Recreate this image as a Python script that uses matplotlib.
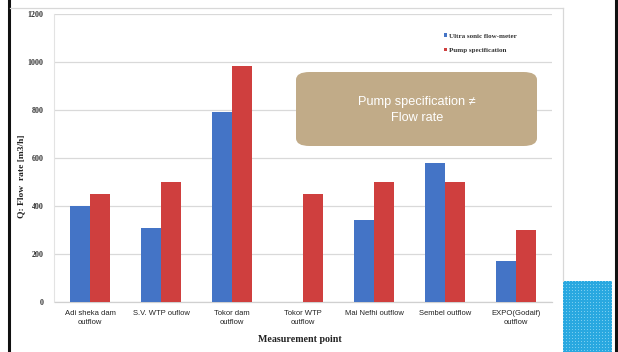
import numpy as np
import matplotlib
matplotlib.use("Agg")
import matplotlib.pyplot as plt
from matplotlib.patches import FancyBboxPatch
from matplotlib.lines import Line2D

categories = ["Adi sheka dam\noutflow", "S.V. WTP ouflow", "Tokor dam\noutflow",
              "Tokor WTP\noutflow", "Mai Nefhi outflow", "Sembel outflow",
              "EXPO(Godaif)\noutflow"]
ultrasonic = [400, 310, 790, 0, 340, 580, 170]
pump_spec = [450, 500, 985, 450, 500, 500, 300]
series_names = ["Ultra sonic flow-meter", "Pump specification"]
yticks = [0, 200, 400, 600, 800, 1000, 1200]

W, H = 618, 352
fig = plt.figure(figsize=(W / 100, H / 100), dpi=100)
fig.patch.set_facecolor("white")


def fx(px):
    return px / W


def fy(py):
    return 1 - py / H


# slide frame: dark side rules and the light chart border
fig.add_artist(Line2D([fx(9), fx(9)], [0, 1], color="#111111", lw=2.2))
fig.add_artist(Line2D([fx(615.5), fx(615.5)], [0, 1], color="#111111", lw=2.2))
fig.add_artist(Line2D([fx(10), fx(563)], [fy(8), fy(8)], color="#d8d8d8", lw=0.9))
fig.add_artist(Line2D([fx(563), fx(563)], [fy(8), fy(281)], color="#d8d8d8", lw=0.9))

# plot area
left, right, top, bottom = 54.5, 551.5, 14, 302
ax = fig.add_axes([fx(left), fy(bottom), fx(right - left), (bottom - top) / H])
x = np.arange(len(categories))
bw = 0.28
ax.bar(x - bw / 2, ultrasonic, bw, color="#4474C6", label=series_names[0], zorder=3)
ax.bar(x + bw / 2, pump_spec, bw, color="#CF3F3E", label=series_names[1], zorder=3)

ax.set_xlim(-0.5, len(categories) - 0.5)
ax.set_ylim(0, 1200)
ax.set_yticks(yticks)
ax.set_yticklabels([str(v) for v in yticks], fontfamily="Liberation Serif",
                   fontweight="bold", fontsize=5.8, color="#333333")
ax.set_xticks(x)
ax.set_xticklabels(categories, fontfamily="Liberation Sans", fontsize=5.5,
                   color="#222222", linespacing=1.3)
ax.tick_params(axis="both", length=0)
ax.tick_params(axis="y", pad=8)
ax.tick_params(axis="x", pad=6)
ax.grid(axis="y", color="#d9d9d9", lw=0.9, zorder=0)
for s in ["top", "right"]:
    ax.spines[s].set_visible(False)
ax.spines["left"].set_color("#e3e3e3")
ax.spines["bottom"].set_color("#d0d0d0")
ax.spines["left"].set_linewidth(0.8)
ax.spines["bottom"].set_linewidth(0.9)

fig.text(fx(21), fy(176), "Q: Flow  rate [m3/h]", fontfamily="Liberation Serif",
         fontweight="bold", fontsize=6.8, color="#222222", rotation=90,
         ha="center", va="center")
fig.text(fx(300), fy(339), "Measurement point", fontfamily="Liberation Serif",
         fontweight="bold", fontsize=7.2, color="#222222", ha="center", va="center")

leg = ax.legend(loc="upper left", bbox_to_anchor=(fx(438), fy(27)),
                bbox_transform=fig.transFigure, frameon=False,
                prop={"family": "Liberation Serif", "weight": "bold", "size": 5.0},
                handlelength=0.45, handleheight=0.45, handletextpad=0.25,
                labelspacing=1.3)
for t in leg.get_texts():
    t.set_color("#333333")

# callout box
box = FancyBboxPatch((fx(296), fy(146)), fx(537 - 296), (146 - 72) / H,
                     boxstyle="round,pad=0,rounding_size=0.022",
                     transform=fig.transFigure, facecolor="#C1AB88",
                     edgecolor="none", zorder=5)
fig.add_artist(box)
fig.text(fx(417), fy(110), "Pump specification \u2260\nFlow rate",
         fontfamily="Liberation Sans", fontsize=9.2, color="white",
         ha="center", va="center", linespacing=1.35, zorder=6)

# dotted blue corner tile
tile = fig.add_axes([fx(563), 0, fx(612 - 563), (352 - 281) / H])
th, tw = 71, 49
pat = np.zeros((th, tw, 3))
pat[:] = np.array([41, 168, 224]) / 255
pat[::3, ::3] = np.array([120, 205, 240]) / 255
tile.imshow(pat, interpolation="nearest", aspect="auto")
tile.axis("off")

fig.savefig("out.png", dpi=100, facecolor="white")
